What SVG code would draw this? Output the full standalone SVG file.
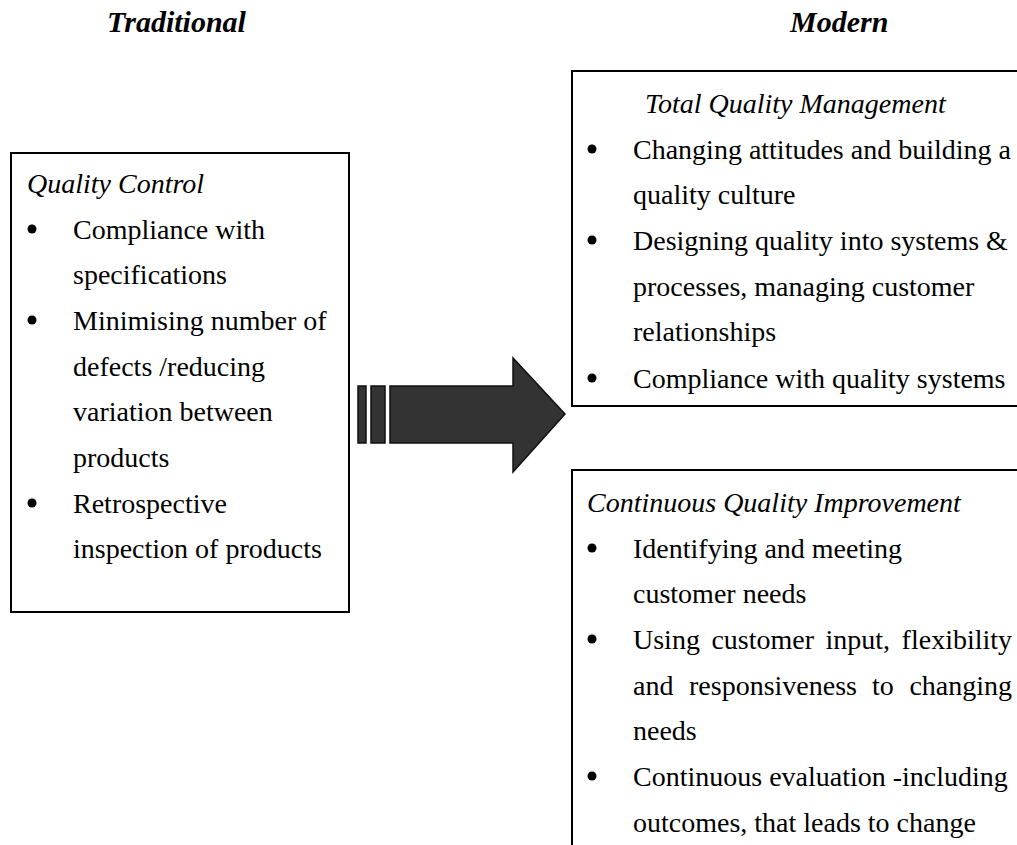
<svg xmlns="http://www.w3.org/2000/svg" width="1017" height="845" viewBox="0 0 1017 845">
  <style>
    .t { font-family: "Liberation Serif", "Times New Roman", serif; font-size: 28px; fill: #000; }
    .i { font-style: italic; }
    .h { font-family: "Liberation Serif", "Times New Roman", serif; font-size: 30px; font-weight: bold; font-style: italic; fill: #000; }
    .box { fill: #fff; stroke: #000; stroke-width: 2; }
    .arrow { fill: #333; stroke: #111; stroke-width: 1.5; }
  </style>
  <defs>
    <circle id="bul" r="4.5" fill="#000"/>
  </defs>
  <rect width="1017" height="845" fill="#fff"/>

  <g id="header-traditional"><text class="h" x="107" y="32">Traditional</text></g>
  <g id="header-modern"><text class="h" x="790" y="32">Modern</text></g>

  <g id="quality-control">
    <rect class="box" x="11" y="153" width="338" height="459"/>
    <text class="t i" x="27" y="193">Quality Control</text>
    <use href="#bul" x="32" y="229"/>
    <text class="t" x="73" y="239">Compliance with</text>
    <text class="t" x="73" y="284">specifications</text>
    <use href="#bul" x="32" y="320"/>
    <text class="t" x="73" y="330">Minimising number of</text>
    <text class="t" x="73" y="376">defects /reducing</text>
    <text class="t" x="73" y="421">variation between</text>
    <text class="t" x="73" y="467">products</text>
    <use href="#bul" x="32" y="503"/>
    <text class="t" x="73" y="513">Retrospective</text>
    <text class="t" x="73" y="558">inspection of products</text>
  </g>

  <g id="total-quality-management">
    <rect class="box" x="572" y="71" width="460" height="335"/>
    <text class="t i" x="645" y="113">Total Quality Management</text>
    <use href="#bul" x="592" y="149"/>
    <text class="t" x="633" y="159">Changing attitudes and building a</text>
    <text class="t" x="633" y="204">quality culture</text>
    <use href="#bul" x="592" y="240"/>
    <text class="t" x="633" y="250">Designing quality into systems &amp;</text>
    <text class="t" x="633" y="296">processes, managing customer</text>
    <text class="t" x="633" y="341">relationships</text>
    <use href="#bul" x="592" y="378"/>
    <text class="t" x="633" y="388">Compliance with quality systems</text>
  </g>

  <g id="continuous-quality-improvement">
    <rect class="box" x="572" y="470" width="460" height="400"/>
    <text class="t i" x="587" y="512">Continuous Quality Improvement</text>
    <use href="#bul" x="592" y="548"/>
    <text class="t" x="633" y="558">Identifying and meeting</text>
    <text class="t" x="633" y="603">customer needs</text>
    <use href="#bul" x="592" y="639"/>
    <text class="t" y="649"><tspan x="633">Using</tspan><tspan x="711.4">customer</tspan><tspan x="825.5">input,</tspan><tspan x="901.6">flexibility</tspan></text>
    <text class="t" y="695"><tspan x="633">and</tspan><tspan x="689">responsiveness</tspan><tspan x="872">to</tspan><tspan x="909.4">changing</tspan></text>
    <text class="t" x="633" y="740">needs</text>
    <use href="#bul" x="592" y="776"/>
    <text class="t" x="633" y="786">Continuous evaluation -including</text>
    <text class="t" x="633" y="832">outcomes, that leads to change</text>
  </g>

  <g id="connectors">
    <g id="transition-arrow">
      <rect class="arrow" x="358" y="386" width="8" height="57"/>
      <rect class="arrow" x="371" y="386" width="14" height="57"/>
      <path class="arrow" d="M390,386 L513,386 L513,358 L565,414 L513,472 L513,443 L390,443 Z"/>
    </g>
  </g>
</svg>
